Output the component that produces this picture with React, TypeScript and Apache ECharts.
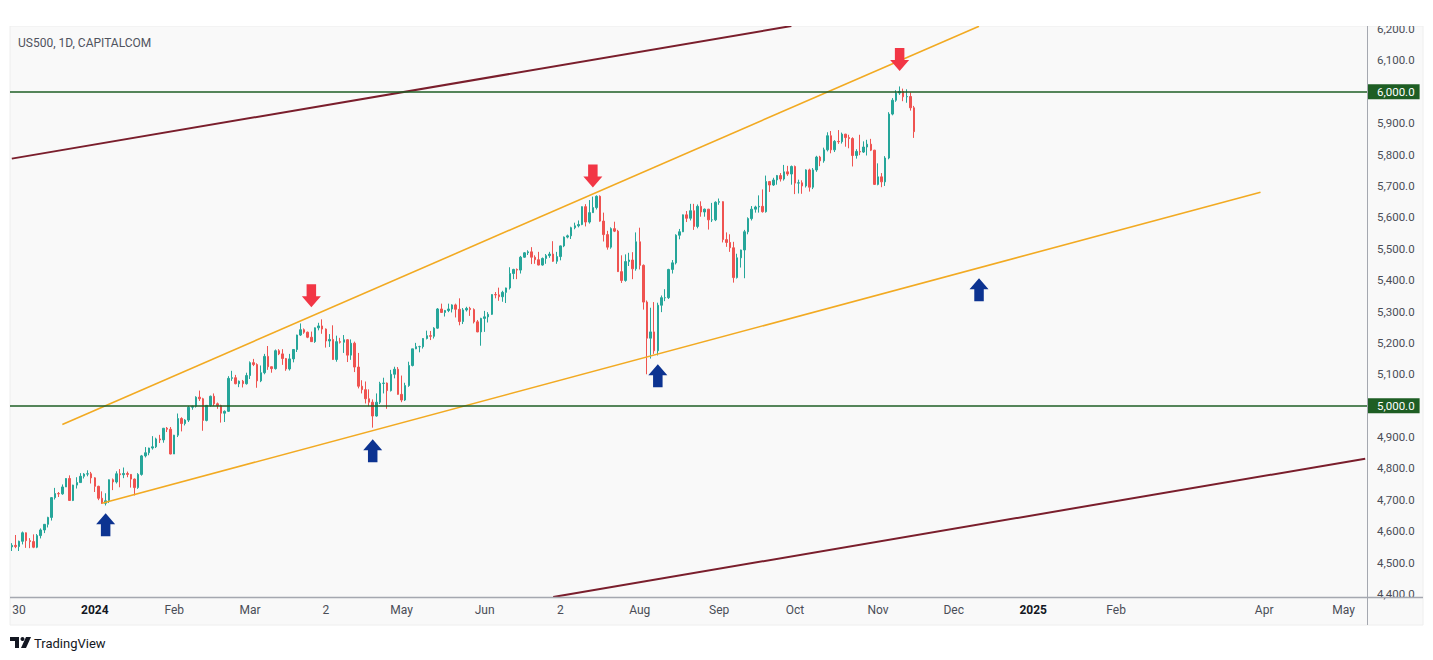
import React, { useEffect, useRef } from "react";
import * as echarts from "echarts";

// ---- OHLC data, one row per trading day: [open, close, low, high] ----
const nov2023 = [
  [4550, 4555, 4537, 4562], [4555, 4551, 4546, 4588], [4551, 4568, 4537, 4570],
];
const dec2023 = [
  [4568, 4595, 4558, 4599], [4595, 4570, 4547, 4596], [4570, 4567, 4546, 4578], [4567, 4549, 4546, 4590],
  [4549, 4586, 4546, 4591], [4586, 4604, 4577, 4609], [4604, 4622, 4594, 4623], [4622, 4644, 4612, 4646],
  [4644, 4707, 4634, 4709], [4707, 4720, 4701, 4738], [4720, 4719, 4709, 4725], [4719, 4741, 4716, 4749],
  [4741, 4768, 4741, 4769], [4768, 4698, 4697, 4778], [4698, 4747, 4696, 4748], [4747, 4755, 4736, 4772],
  [4755, 4775, 4755, 4785], [4775, 4782, 4768, 4785], [4782, 4783, 4775, 4794], [4783, 4770, 4752, 4789],
];
const jan2024 = [
  [4770, 4743, 4725, 4772], [4743, 4705, 4699, 4745], [4705, 4689, 4687, 4727], [4689, 4697, 4682, 4721],
  [4697, 4764, 4690, 4765], [4764, 4757, 4731, 4768], [4757, 4783, 4752, 4791], [4783, 4780, 4740, 4798],
  [4780, 4784, 4769, 4803], [4784, 4781, 4772, 4790], [4781, 4766, 4739, 4782], [4766, 4739, 4714, 4768],
  [4739, 4781, 4735, 4785], [4781, 4840, 4777, 4843], [4840, 4850, 4835, 4868], [4850, 4865, 4842, 4866],
  [4865, 4869, 4860, 4903], [4869, 4894, 4865, 4898], [4894, 4891, 4881, 4907], [4891, 4928, 4882, 4929],
  [4928, 4925, 4916, 4932], [4925, 4846, 4845, 4932],
];
const feb2024 = [
  [4846, 4906, 4846, 4907], [4906, 4959, 4900, 4975], [4959, 4943, 4918, 4963], [4943, 4954, 4937, 4957],
  [4954, 4995, 4948, 4999], [4995, 4998, 4987, 5000], [4998, 5027, 4994, 5030], [5027, 5022, 5015, 5048],
  [5022, 4953, 4920, 5025], [4953, 5001, 4950, 5002], [5001, 5030, 4997, 5032], [5030, 5006, 4999, 5039],
  [5006, 5000, 4990, 5010], [5000, 4976, 4946, 5003], [4976, 4982, 4948, 4985], [4982, 5087, 4980, 5094],
  [5087, 5089, 5079, 5111], [5089, 5070, 5068, 5098], [5070, 5078, 5059, 5080], [5078, 5070, 5058, 5082],
  [5070, 5096, 5067, 5105],
];
const mar2024 = [
  [5096, 5137, 5085, 5141], [5137, 5131, 5126, 5149], [5131, 5079, 5057, 5135], [5079, 5105, 5075, 5128],
  [5105, 5157, 5100, 5165], [5157, 5124, 5114, 5190], [5124, 5118, 5105, 5125], [5118, 5175, 5115, 5179],
  [5175, 5165, 5161, 5180], [5165, 5150, 5130, 5180], [5150, 5117, 5111, 5152], [5117, 5149, 5112, 5165],
  [5149, 5179, 5138, 5180], [5179, 5225, 5171, 5226], [5225, 5242, 5222, 5262], [5242, 5234, 5229, 5246],
  [5234, 5218, 5215, 5236], [5218, 5204, 5203, 5236], [5204, 5248, 5200, 5249], [5248, 5254, 5240, 5264],
];
const apr2024 = [
  [5254, 5244, 5229, 5275], [5244, 5206, 5185, 5246], [5206, 5211, 5187, 5228], [5211, 5147, 5146, 5256],
  [5147, 5204, 5140, 5223], [5204, 5202, 5198, 5216], [5202, 5210, 5168, 5225], [5210, 5161, 5139, 5212],
  [5161, 5199, 5146, 5211], [5199, 5123, 5107, 5204], [5123, 5062, 5055, 5168], [5062, 5051, 5039, 5081],
  [5051, 5022, 5007, 5077], [5022, 5011, 4998, 5052], [5011, 4967, 4930, 5020], [4967, 5011, 4965, 5039],
  [5011, 5071, 5005, 5076], [5071, 5072, 5039, 5089], [5072, 5048, 4990, 5074], [5048, 5100, 5045, 5114],
  [5100, 5116, 5087, 5124], [5116, 5036, 5035, 5123],
];
const may2024 = [
  [5036, 5018, 5011, 5096], [5018, 5064, 5015, 5073], [5064, 5128, 5060, 5140], [5128, 5181, 5125, 5181],
  [5181, 5188, 5180, 5200], [5188, 5188, 5170, 5191], [5188, 5214, 5182, 5215], [5214, 5223, 5211, 5239],
  [5223, 5221, 5209, 5238], [5221, 5247, 5214, 5250], [5247, 5308, 5245, 5311], [5308, 5297, 5296, 5325],
  [5297, 5303, 5284, 5305], [5303, 5308, 5298, 5325], [5308, 5321, 5297, 5323], [5321, 5307, 5281, 5325],
  [5307, 5268, 5256, 5342], [5268, 5305, 5260, 5311], [5305, 5310, 5300, 5315], [5310, 5306, 5286, 5315],
  [5306, 5267, 5262, 5310], [5267, 5235, 5234, 5273], [5235, 5278, 5191, 5280],
];
const jun2024 = [
  [5278, 5283, 5235, 5302], [5283, 5291, 5265, 5298], [5291, 5354, 5289, 5355], [5354, 5353, 5342, 5362],
  [5353, 5347, 5334, 5376], [5347, 5361, 5331, 5366], [5361, 5375, 5327, 5376], [5375, 5421, 5370, 5441],
  [5421, 5434, 5403, 5436], [5434, 5432, 5403, 5437], [5432, 5473, 5421, 5477], [5473, 5487, 5471, 5489],
  [5487, 5490, 5480, 5495], [5490, 5473, 5451, 5505], [5473, 5465, 5452, 5479], [5465, 5448, 5447, 5490],
  [5448, 5469, 5446, 5472], [5469, 5478, 5452, 5483], [5478, 5483, 5471, 5490], [5483, 5460, 5458, 5524],
];
const jul2024 = [
  [5460, 5475, 5452, 5490], [5475, 5509, 5463, 5510], [5509, 5537, 5505, 5539], [5537, 5541, 5533, 5545],
  [5541, 5567, 5531, 5570], [5567, 5573, 5562, 5583], [5573, 5577, 5568, 5590], [5577, 5634, 5575, 5635],
  [5634, 5585, 5571, 5642], [5585, 5615, 5580, 5655], [5615, 5631, 5614, 5666], [5631, 5667, 5625, 5670],
  [5667, 5588, 5586, 5670], [5588, 5545, 5523, 5615], [5545, 5505, 5497, 5557], [5505, 5564, 5500, 5568],
  [5564, 5556, 5553, 5586], [5556, 5427, 5426, 5560], [5427, 5399, 5391, 5479], [5399, 5459, 5395, 5482],
  [5459, 5464, 5445, 5487], [5464, 5436, 5403, 5489], [5436, 5522, 5430, 5552],
];
const aug2024 = [
  [5522, 5447, 5434, 5567], [5447, 5330, 5306, 5450], [5330, 5215, 5100, 5335], [5215, 5235, 5150, 5312],
  [5235, 5175, 5165, 5330], [5175, 5320, 5160, 5328], [5320, 5344, 5298, 5351], [5344, 5344, 5333, 5371],
  [5344, 5434, 5340, 5436], [5434, 5455, 5421, 5464], [5455, 5543, 5450, 5546], [5543, 5554, 5530, 5563],
  [5554, 5608, 5553, 5609], [5608, 5597, 5585, 5620], [5597, 5621, 5590, 5643], [5621, 5571, 5560, 5643],
  [5571, 5635, 5565, 5641], [5635, 5617, 5602, 5651], [5617, 5626, 5602, 5628], [5626, 5592, 5561, 5627],
  [5592, 5592, 5585, 5646], [5592, 5648, 5588, 5651],
];
const sep2024 = [
  [5648, 5650, 5640, 5660], [5650, 5529, 5520, 5651], [5529, 5520, 5506, 5552], [5520, 5503, 5490, 5546],
  [5503, 5408, 5392, 5522], [5408, 5471, 5405, 5484], [5471, 5496, 5440, 5497], [5496, 5554, 5406, 5560],
  [5554, 5596, 5546, 5600], [5596, 5626, 5590, 5636], [5626, 5633, 5615, 5637], [5633, 5635, 5615, 5670],
  [5635, 5618, 5615, 5689], [5618, 5714, 5615, 5733], [5714, 5703, 5681, 5716], [5703, 5719, 5700, 5726],
  [5719, 5733, 5704, 5735], [5733, 5722, 5714, 5741], [5722, 5745, 5717, 5767], [5745, 5738, 5732, 5764],
  [5738, 5762, 5704, 5765],
];
const oct2024 = [
  [5762, 5709, 5674, 5765], [5709, 5710, 5676, 5720], [5710, 5700, 5675, 5718], [5700, 5751, 5695, 5753],
  [5751, 5696, 5682, 5755], [5696, 5751, 5690, 5757], [5751, 5792, 5745, 5796], [5792, 5780, 5763, 5796],
  [5780, 5815, 5774, 5822], [5815, 5860, 5810, 5871], [5860, 5815, 5804, 5875], [5815, 5842, 5808, 5846],
  [5842, 5841, 5834, 5878], [5841, 5865, 5835, 5870], [5865, 5854, 5825, 5866], [5854, 5851, 5820, 5863],
  [5851, 5797, 5762, 5855], [5797, 5810, 5787, 5817], [5810, 5808, 5798, 5863], [5808, 5824, 5805, 5842],
  [5824, 5833, 5797, 5847], [5833, 5814, 5811, 5850], [5814, 5705, 5703, 5815],
];
const nov2024 = [
  [5705, 5729, 5702, 5772], [5729, 5713, 5696, 5741], [5713, 5789, 5700, 5795], [5789, 5929, 5785, 5935],
  [5929, 5973, 5925, 5980], [5973, 5996, 5968, 6005], [5996, 6001, 5990, 6017], [6001, 5984, 5970, 6010],
  [5984, 5985, 5965, 6008], [5985, 5949, 5940, 5998], [5949, 5873, 5853, 5955],
];

// ---- time axis ----
const firstDay = "2023-11-28";
const lastAxisDay = "2025-05-09";
const closedDays = ["2023-12-25", "2024-01-01", "2024-03-29"];
const timeTickDates = [
  "2023-11-30", "2024-01-02", "2024-02-01", "2024-03-01", "2024-04-02", "2024-05-01", "2024-06-03",
  "2024-07-02", "2024-08-01", "2024-09-02", "2024-10-01", "2024-11-01", "2024-12-02", "2025-01-01",
  "2025-02-03", "2025-04-01", "2025-05-01",
];
const timeTickLabels = [
  "30", "2024", "Feb", "Mar", "2", "May", "Jun", "2", "Aug", "Sep", "Oct", "Nov", "Dec", "2025", "Feb", "Apr", "May",
];
const yearLabels = ["2024", "2025"];

// ---- price axis ----
const priceMin = 4400;
const priceMax = 6200;
const priceStep = 100;
const levelValues = [6000, 5000];
const lastPrice = 5873.3;

// ---- annotations ----
const redArrows = [["2024-03-26", 5350], ["2024-07-15", 5732], ["2024-11-11", 6103]];
const blueArrows = [["2024-01-05", 4621], ["2024-04-19", 4856], ["2024-08-08", 5095], ["2024-12-11", 5369]];
const maroonUpper = [["2023-11-28", 5787], ["2024-09-30", 6209.5]];
const maroonLower = [["2024-06-28", 4390.6], ["2025-05-09", 4831]];
const channelUpper = [["2023-12-18", 4940], ["2024-12-11", 6209]];
const channelLower = [["2024-01-04", 4689], ["2025-03-31", 5680]];

const FONT = 'Roboto, "Liberation Sans", Arial, sans-serif';
const UP = "#26a69a";
const DOWN = "#ef5350";
const GREEN_LEVEL = "#1e5e24";
const MAROON = "#7a1e2c";
const ORANGE = "#f2aa22";

function buildAxisDays(): string[] {
  const out: string[] = [];
  const start = Date.parse(firstDay + "T00:00:00Z");
  const end = Date.parse(lastAxisDay + "T00:00:00Z");
  for (let t = start; t <= end; t += 86400000) {
    const d = new Date(t);
    const wd = d.getUTCDay();
    if (wd === 0 || wd === 6) continue;
    const s = d.toISOString().slice(0, 10);
    if (closedDays.includes(s)) continue;
    out.push(s);
  }
  return out;
}

function fmtPrice(v: number): string {
  const s = v.toFixed(1);
  const [i, d] = s.split(".");
  return i.replace(/\B(?=(\d{3})+(?!\d))/g, ",") + "." + d;
}

export default function App() {
  const ref = useRef<HTMLDivElement>(null);
  useEffect(() => {
    if (!ref.current) return;
    const chart = echarts.init(ref.current, undefined, { renderer: "svg" });
    const axisDays = buildAxisDays();
    const candles = [
      ...nov2023, ...dec2023, ...jan2024, ...feb2024, ...mar2024, ...apr2024, ...may2024,
      ...jun2024, ...jul2024, ...aug2024, ...sep2024, ...oct2024, ...nov2024,
    ];
    const tickMap: Record<string, string> = {};
    timeTickDates.forEach((d, i) => (tickMap[d] = timeTickLabels[i]));

    const trend = (name: string, pts: any[], color: string, width: number) => ({
      name,
      type: "line",
      data: pts,
      showSymbol: false,
      symbol: "none",
      silent: true,
      clip: false,
      z: 4,
      lineStyle: { color, width },
    });

    const levelLabel = (text: string, bg: string, fg: string) => ({
      show: true,
      position: "end",
      formatter: text,
      color: fg,
      backgroundColor: bg,
      padding: [2, 5, 1, 9],
      distance: 1,
      fontSize: 11.5,
      fontFamily: FONT,
    });

    const option: any = {
      animation: false,
      backgroundColor: "#ffffff",
      grid: { left: 10, right: 66, top: 29, bottom: 66, containLabel: false },
      xAxis: {
        type: "category",
        data: axisDays,
        boundaryGap: true,
        axisLine: { show: false },
        axisTick: { show: false },
        splitLine: { show: false },
        axisLabel: {
          interval: 0,
          margin: 10,
          color: "#4a4d57",
          fontSize: 12,
          fontFamily: FONT,
          formatter: (v: string) => {
            const l = tickMap[v];
            if (!l) return "";
            return yearLabels.includes(l) ? `{y|${l}}` : l;
          },
          rich: { y: { fontWeight: "bold", color: "#131722", fontSize: 12, fontFamily: FONT } },
        },
      },
      yAxis: {
        type: "value",
        position: "right",
        min: priceMin,
        max: priceMax,
        interval: priceStep,
        axisLine: { show: false },
        axisTick: { show: false },
        splitLine: { show: false },
        axisLabel: { margin: 10, color: "#4a4d57", fontSize: 11.5, fontFamily: FONT, formatter: fmtPrice },
      },
      series: [
        {
          type: "candlestick",
          data: candles,
          barWidth: 2,
          z: 3,
          itemStyle: { color: UP, color0: DOWN, borderColor: UP, borderColor0: DOWN, borderWidth: 1 },
          markLine: {
            symbol: ["none", "none"],
            silent: true,
            animation: false,
            data: [
              ...levelValues.map((v) => ({
                yAxis: v,
                lineStyle: { color: GREEN_LEVEL, width: 1.5, type: "solid" },
                label: levelLabel(fmtPrice(v), GREEN_LEVEL, "#ffffff"),
              })),
              {
                yAxis: lastPrice,
                lineStyle: { color: "#d6d7db", width: 0, opacity: 0 },
                label: levelLabel(fmtPrice(lastPrice), "#d7d8dc", "#131722"),
              },
            ],
          },
        },
        trend("maroonUpper", maroonUpper, MAROON, 2),
        trend("maroonLower", maroonLower, MAROON, 2),
        trend("channelUpper", channelUpper, ORANGE, 1.6),
        trend("channelLower", channelLower, ORANGE, 1.6),
        {
          type: "scatter",
          data: redArrows,
          symbol: "path://M5,0 L15,0 L15,12 L20,12 L10,23 L0,12 L5,12 Z",
          symbolSize: [19, 23],
          itemStyle: { color: "#f23645", opacity: 1 },
          silent: true,
          z: 6,
        },
        {
          type: "scatter",
          data: blueArrows,
          symbol: "path://M10,0 L20,11 L15,11 L15,23 L5,23 L5,11 L0,11 Z",
          symbolSize: [19, 23],
          itemStyle: { color: "#0c3391", opacity: 1 },
          silent: true,
          z: 6,
        },
      ],
      graphic: [
        { type: "rect", z: -10, silent: true, shape: { x: 10, y: 26, width: 1413, height: 599 }, style: { fill: "#f9f9f9", stroke: "#eeeeee", lineWidth: 1 } },
        { type: "line", z: 50, silent: true, shape: { x1: 1367.5, y1: 26, x2: 1367.5, y2: 625 }, style: { stroke: "#a5a8b0", lineWidth: 1 } },
        { type: "line", z: 50, silent: true, shape: { x1: 10, y1: 597.5, x2: 1423, y2: 597.5 }, style: { stroke: "#a5a8b0", lineWidth: 1.5 } },
        { type: "rect", z: 100, silent: true, shape: { x: 0, y: 0, width: 1433, height: 26 }, style: { fill: "#ffffff" } },
        { type: "text", z: 60, silent: true, x: 18, y: 43, style: { text: "US500, 1D, CAPITALCOM", fill: "#50535e", font: `12px ${FONT}`, verticalAlign: "middle" } },
        { type: "polygon", z: 60, silent: true, shape: { points: [[10, 637], [19, 637], [19, 648], [15, 648], [15, 641], [10, 641]] }, style: { fill: "#131722" } },
        { type: "circle", z: 60, silent: true, shape: { cx: 22.5, cy: 639, r: 2 }, style: { fill: "#131722" } },
        { type: "polygon", z: 60, silent: true, shape: { points: [[26, 637], [31, 637], [26, 648], [21, 648]] }, style: { fill: "#131722" } },
        { type: "text", z: 60, silent: true, x: 34, y: 643, style: { text: "TradingView", fill: "#131722", font: `13px ${FONT}`, verticalAlign: "middle" } },
      ],
    };
    chart.setOption(option);
    return () => chart.dispose();
  }, []);
  return <div ref={ref} style={{ position: "absolute", left: 0, top: 0, width: 1433, height: 660 }} />;
}
